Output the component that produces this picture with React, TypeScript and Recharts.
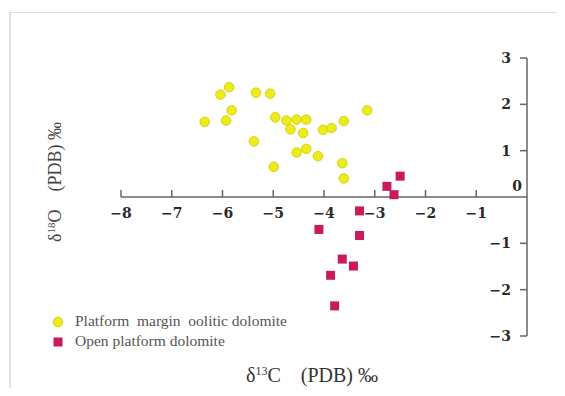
import React from "react";
import {
  ScatterChart,
  Scatter,
  XAxis,
  YAxis,
  ReferenceLine,
  Legend,
} from "recharts";

// δ13C / δ18O values
const marginC13 = [-6.35, -6.04, -5.87, -5.82, -5.93, -5.34, -5.06, -5.38, -4.96, -4.99, -4.74, -4.66, -4.54, -4.35, -4.41, -4.54, -4.35, -4.12, -4.02, -3.85, -3.61, -3.64, -3.61, -3.15];
const marginO18 = [1.62, 2.21, 2.37, 1.87, 1.65, 2.25, 2.23, 1.2, 1.72, 0.65, 1.65, 1.46, 1.67, 1.67, 1.38, 0.96, 1.04, 0.88, 1.45, 1.49, 1.64, 0.73, 0.4, 1.87];
const openC13 = [-2.5, -2.76, -2.62, -3.3, -4.1, -3.3, -3.64, -3.42, -3.87, -3.79];
const openO18 = [0.45, 0.23, 0.05, -0.3, -0.7, -0.83, -1.34, -1.49, -1.69, -2.35];

const xTicks = [-8, -7, -6, -5, -4, -3, -2, -1, 0];
const yTicks = [-3, -2, -1, 1, 2, 3];
const seriesNames = ["Platform  margin  oolitic dolomite", "Open platform dolomite"];

const marginData = marginC13.map((x, i) => ({ x, y: marginO18[i] }));
const openData = openC13.map((x, i) => ({ x, y: openO18[i] }));

const W = 549;
const H = 380;
const Y_AXIS_W = 30;
const X_AXIS_H = 30;
const M = { top: 50, left: 113, right: 30, bottom: 22 };
const PLOT_TOP = M.top;
const PLOT_BOTTOM = H - M.bottom - X_AXIS_H;
const PLOT_RIGHT = W - M.right;
const ZERO_Y = PLOT_TOP + (PLOT_BOTTOM - PLOT_TOP) * (3 / 6);

const AXIS_COLOR = "#666";
const TICK_FONT = "'DejaVu Serif', serif";
const TEXT_COLOR = "#2a2a2a";
const YELLOW = "#ecec18";
const YELLOW_STROKE = "#cfc800";
const MAGENTA = "#c91a5e";

const fmt = (v: number) => String(v).replace("-", "\u2212");

const XTick = (props: any) => {
  const { x, payload } = props;
  const v = payload.value;
  if (v === 0) {
    return (
      <text x={x - 10} y={ZERO_Y - 6} textAnchor="middle" fontFamily={TICK_FONT} fontWeight="bold" fontSize={14} fill={TEXT_COLOR}>
        0
      </text>
    );
  }
  return (
    <g>
      <line x1={x} x2={x} y1={ZERO_Y} y2={ZERO_Y - 7} stroke={AXIS_COLOR} strokeWidth={1.5} />
      <text x={x} y={ZERO_Y + 21} textAnchor="middle" fontFamily={TICK_FONT} fontWeight="bold" fontSize={14} fill={TEXT_COLOR}>
        {fmt(v)}
      </text>
    </g>
  );
};

const YTick = (props: any) => {
  const { y, payload } = props;
  return (
    <text x={PLOT_RIGHT - 16} y={y + 5} textAnchor="end" fontFamily={TICK_FONT} fontWeight="bold" fontSize={14} fill={TEXT_COLOR}>
      {fmt(payload.value)}
    </text>
  );
};

const Circle = (props: any) => (
  <circle cx={props.cx} cy={props.cy} r={4.8} fill={YELLOW} stroke={YELLOW_STROKE} strokeWidth={0.8} />
);
const Square = (props: any) => (
  <rect x={props.cx - 4.5} y={props.cy - 4.5} width={9} height={9} fill={MAGENTA} />
);

const LegendContent = (props: any) => {
  const payload = [...(props.payload || [])].sort(
    (a: any, b: any) => seriesNames.indexOf(a.value) - seriesNames.indexOf(b.value)
  );
  return (
    <svg width={300} height={45}>
      {payload.map((p: any, i: number) => (
        <g key={i}>
          {p.value === seriesNames[0] ? (
            <circle cx={8} cy={9 + i * 20} r={4.8} fill={YELLOW} stroke={YELLOW_STROKE} strokeWidth={0.8} />
          ) : (
            <rect x={3.5} y={4.5 + i * 20} width={9} height={9} fill={MAGENTA} />
          )}
          <text x={25} y={13 + i * 20} fontFamily="'Liberation Serif', serif" fontSize={15.5} fill="#555" style={{ whiteSpace: "pre" }}>
            {p.value}
          </text>
        </g>
      ))}
    </svg>
  );
};

export default function App() {
  return (
    <div style={{ position: "relative", width: W, height: H, overflow: "hidden", background: "#fff" }}>
      <div
        style={{
          position: "absolute",
          left: 1,
          top: 4,
          width: W + 10,
          height: H + 10,
          borderTop: "1px solid #dedede",
          borderLeft: "2px solid #e2e2e2",
        }}
      />
      <ScatterChart width={W} height={H} margin={M}>
        <XAxis
          type="number"
          dataKey="x"
          domain={[-8, 0]}
          ticks={xTicks}
          interval={0}
          axisLine={false}
          tickLine={false}
          tick={<XTick />}
          height={X_AXIS_H}
        />
        <YAxis
          type="number"
          dataKey="y"
          domain={[-3, 3]}
          ticks={yTicks}
          interval={0}
          orientation="right"
          mirror
          width={Y_AXIS_W}
          axisLine={{ stroke: AXIS_COLOR, strokeWidth: 1.5 }}
          tickLine={{ stroke: AXIS_COLOR, strokeWidth: 1.5 }}
          tickSize={7}
          tick={<YTick />}
        />
        <ReferenceLine y={0} stroke={AXIS_COLOR} strokeWidth={1.5} />
        <Legend
          layout="horizontal"
          verticalAlign="middle"
          align="center"
          content={<LegendContent />}
          wrapperStyle={{ position: "absolute", left: 42, top: 305, width: 300, height: 45 }}
        />
        <Scatter name={seriesNames[0]} data={marginData} fill={YELLOW} shape={<Circle />} isAnimationActive={false} />
        <Scatter name={seriesNames[1]} data={openData} fill={MAGENTA} shape={<Square />} isAnimationActive={false} />
      </ScatterChart>
      <div
        style={{
          position: "absolute",
          left: 304,
          top: 367,
          transform: "translate(-50%, -50%)",
          fontFamily: "'Liberation Serif', serif",
          fontSize: 20,
          color: "#333",
          whiteSpace: "pre",
          lineHeight: 1,
        }}
      >
        δ<sup style={{ fontSize: 12, verticalAlign: "0.55em" }}>13</sup>C{"    "}(PDB) ‰
      </div>
      <div
        style={{
          position: "absolute",
          left: 47,
          top: 174,
          transform: "translate(-50%, -50%) rotate(-90deg)",
          fontFamily: "'Liberation Serif', serif",
          fontSize: 18,
          color: "#444",
          whiteSpace: "pre",
          lineHeight: 1,
        }}
      >
        δ<sup style={{ fontSize: 11, verticalAlign: "0.55em" }}>18</sup>O{"    "}(PDB) ‰
      </div>
    </div>
  );
}
